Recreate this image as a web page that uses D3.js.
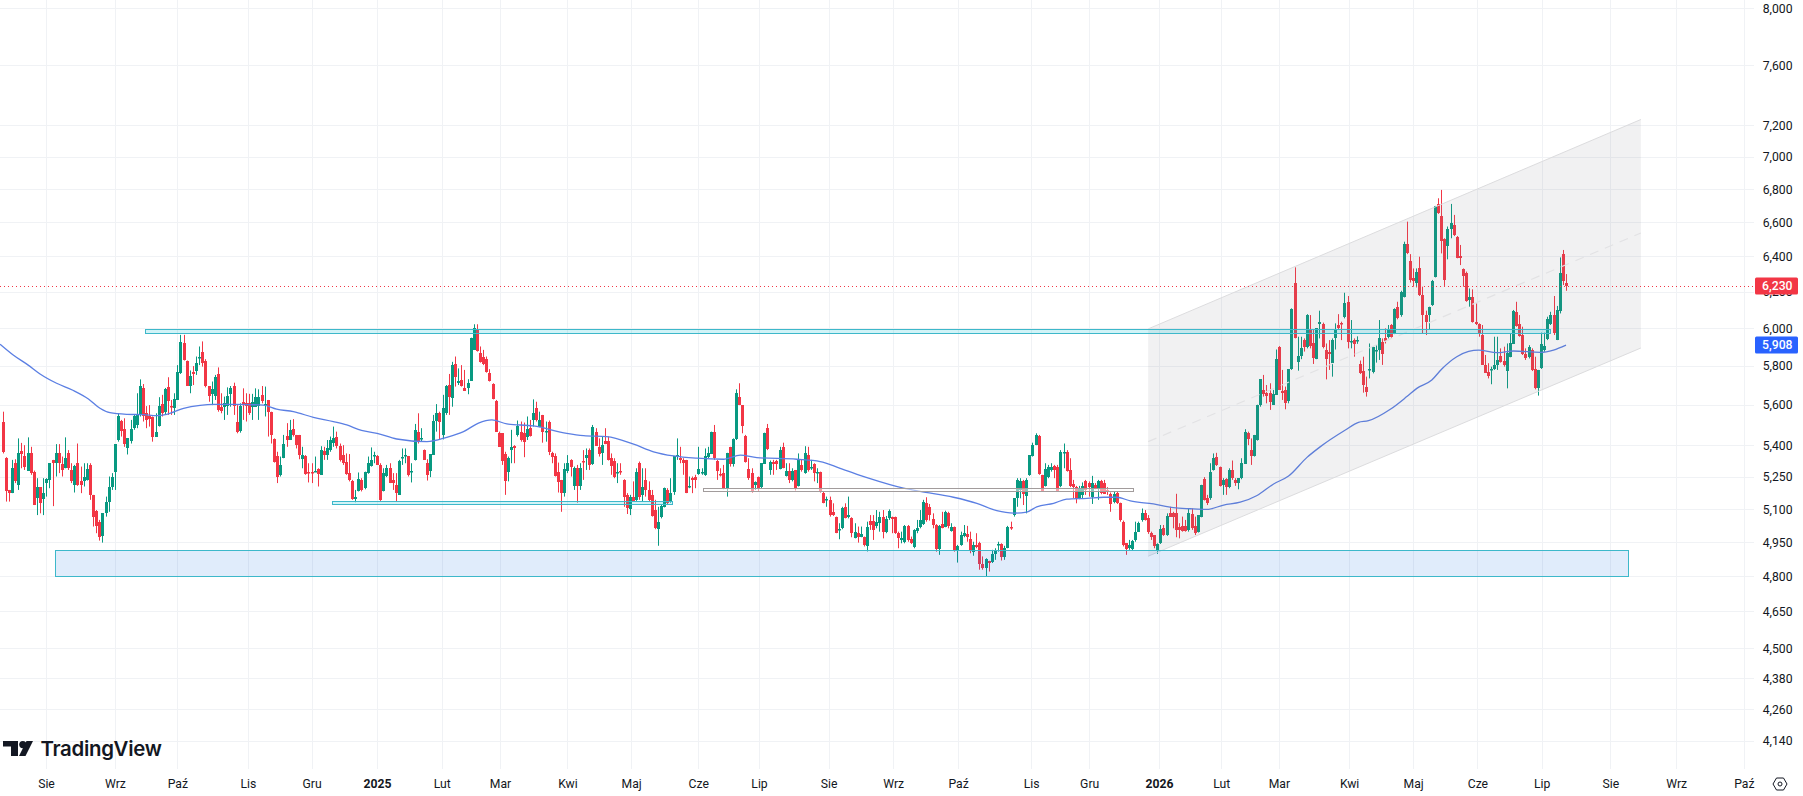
<!DOCTYPE html>
<html>
<head>
<meta charset="utf-8">
<title>Wykres świecowy</title>
<script src="https://cdn.jsdelivr.net/npm/d3@7/dist/d3.min.js"></script>
<style>
html,body{margin:0;padding:0;background:#fff;overflow:hidden}
svg{display:block}
text{font-family:Roboto,"Noto Sans",sans-serif;fill:#131722}
</style>
</head>
<body>
<svg id="chart" width="1803" height="796"></svg>
<script>
// Daily candles as [open, high, low, close]
const bars2024 = [
[5516,5565,5360,5368],[5337,5342,5133,5180],[5187,5187,5133,5175],[5172,5329,5172,5289],[5313,5332,5219,5227],
[5206,5433,5187,5360],[5371,5411,5289,5357],[5348,5400,5281,5297],[5278,5438,5278,5363],[5363,5392,5258,5266],
[5273,5278,5117,5120],[5148,5242,5071,5200],[5200,5200,5079,5128],[5145,5242,5071,5172],[5216,5242,5156,5237],
[5234,5313,5195,5313],[5329,5329,5112,5313],[5313,5405,5250,5360],[5360,5405,5266,5313],[5310,5345,5250,5281],
[5289,5438,5289,5337],[5363,5376,5281,5289],[5281,5313,5219,5231],[5211,5305,5175,5300],[5313,5408,5206,5211],
[5227,5297,5172,5208],[5231,5313,5203,5250],[5231,5313,5231,5284],[5305,5313,5141,5164],[5164,5164,5019,5064],
[5091,5094,4989,5022],[5041,5049,4956,4974],[4974,5079,4947,5079],[5082,5156,5064,5133],[5133,5250,5086,5203],
[5203,5266,5187,5250],[5269,5405,5187,5405],[5425,5557,5417,5541],[5521,5524,5442,5472],[5478,5532,5392,5405],
[5384,5433,5355,5433],[5417,5524,5408,5478],[5483,5549,5475,5541],[5500,5658,5483,5549],[5549,5729,5541,5695],
[5683,5705,5516,5541],[5560,5593,5483,5524],[5541,5598,5491,5524],[5537,5541,5417,5438],[5442,5557,5442,5466],
[5491,5638,5491,5593],[5603,5650,5541,5557],[5565,5685,5549,5682],[5688,5740,5549,5615],[5593,5624,5549,5590],
[5582,5658,5549,5627],[5627,5803,5624,5768],[5764,5963,5757,5925],[5922,5963,5827,5830],[5827,5827,5697,5700],
[5695,5775,5658,5747],[5768,5798,5700,5757],[5770,5848,5752,5812],[5841,5901,5803,5845],[5874,5928,5795,5816],
[5827,5834,5688,5700],[5695,5695,5615,5645],[5651,5718,5598,5678],[5641,5752,5624,5740],[5757,5791,5565,5574],
[5590,5658,5557,5570],[5590,5641,5524,5610],[5593,5688,5549,5645],[5650,5695,5590,5683],[5695,5712,5549,5593],
[5516,5598,5458,5467],[5471,5607,5461,5593],[5615,5683,5524,5598],[5610,5658,5516,5593],[5607,5655,5549,5557],
[5590,5655,5524,5615],[5590,5683,5590,5641],[5597,5678,5524,5641],[5650,5695,5607,5621],[5603,5692,5541,5605],
[5624,5624,5442,5565],[5564,5565,5408,5450],[5431,5433,5316,5321],[5348,5368,5219,5250],[5258,5345,5250,5305],
[5340,5450,5337,5408],[5445,5508,5392,5425],[5425,5524,5425,5475],[5478,5528,5442,5450],[5450,5450,5384,5400],
[5450,5450,5332,5352],[5332,5392,5289,5352],[5348,5352,5258,5263],[5273,5313,5222,5266],[5273,5313,5219,5266],
[5275,5345,5273,5278],[5284,5289,5203,5262],[5258,5395,5258,5376],[5371,5392,5329,5352],[5352,5425,5329,5384],
[5376,5442,5368,5425],[5408,5491,5392,5433],[5438,5466,5384,5392],[5395,5408,5321,5326],[5352,5400,5305,5313],
[5321,5360,5258,5263],[5266,5357,5227,5231],[5231,5234,5141,5148],[5144,5187,5130,5153],[5180,5269,5180,5237],
[5234,5242,5180,5187],[5194,5273,5190,5269],[5266,5345,5263,5313],[5300,5389,5297,5329],[5348,5368,5313,5352],
[5348,5352,5305,5305]
];
const bars2025 = [
[5305,5313,5136,5141],[5180,5289,5180,5266],[5250,5305,5247,5289],[5292,5313,5219,5222],[5234,5266,5187,5222],
[5211,5266,5133,5172],[5164,5329,5164,5324],[5339,5384,5305,5342],[5350,5384,5313,5353],[5348,5348,5250,5258],
[5274,5313,5222,5276],[5329,5504,5326,5475],[5466,5557,5408,5422],[5432,5483,5417,5435],[5379,5379,5329,5332],
[5313,5332,5231,5258],[5276,5357,5247,5357],[5357,5549,5357,5521],[5516,5603,5466,5557],[5557,5565,5425,5511],
[5450,5650,5428,5582],[5557,5700,5549,5695],[5700,5757,5549,5638],[5632,5820,5590,5803],[5809,5848,5692,5744],
[5709,5786,5700,5720],[5726,5803,5692,5695],[5683,5778,5670,5670],[5683,5730,5653,5709],[5723,5948,5723,5948],
[5883,6020,5883,5998],[5993,6020,5874,5874],[5865,5901,5816,5816],[5848,5883,5803,5812],[5834,5848,5764,5764],
[5761,5782,5718,5718],[5705,5709,5627,5627],[5619,5624,5466,5466],[5458,5466,5392,5392],[5458,5458,5305,5324],
[5355,5368,5164,5227],[5269,5345,5227,5337],[5373,5475,5313,5389],[5395,5400,5313,5384],[5450,5521,5442,5495],
[5466,5516,5417,5425],[5458,5511,5342,5412],[5438,5541,5425,5478],[5483,5524,5442,5445],[5524,5627,5491,5557],
[5582,5615,5516,5521],[5488,5565,5488,5524],[5549,5549,5412,5466],[5465,5516,5417,5468],[5516,5521,5352,5368],
[5363,5368,5313,5345],[5350,5360,5250,5253],[5269,5316,5175,5222],[5234,5234,5086,5175],[5169,5313,5156,5284],
[5273,5352,5266,5313],[5329,5332,5250,5297],[5203,5297,5187,5289],[5289,5305,5128,5203],[5203,5313,5187,5289],
[5324,5376,5234,5321],[5337,5384,5281,5352],[5376,5384,5281,5305],[5310,5499,5305,5488],[5466,5483,5400,5400],
[5392,5433,5345,5357],[5360,5442,5305,5400],[5422,5483,5405,5405],[5422,5442,5326,5329],[5340,5360,5258,5302],
[5324,5337,5242,5250],[5268,5313,5219,5270],[5274,5313,5258,5272],[5234,5237,5109,5156],[5164,5172,5076,5102],
[5102,5164,5071,5156],[5156,5227,5133,5136],[5141,5289,5136,5273],[5316,5321,5141,5156],[5164,5289,5133,5203],
[5234,5289,5156,5187],[5187,5227,5133,5141],[5164,5187,5064,5067],[5094,5141,5007,5011],[5011,5109,4933,5041],
[5061,5118,5056,5112],[5109,5198,5106,5198],[5187,5195,5117,5125],[5133,5242,5128,5172],[5180,5348,5164,5348],
[5350,5433,5329,5353],[5337,5392,5313,5326],[5329,5337,5258,5313],[5329,5329,5172,5175],[5201,5250,5195,5205],
[5242,5250,5172,5234],[5250,5258,5195,5237],[5262,5392,5258,5286],[5270,5289,5258,5273],[5258,5384,5253,5348],
[5342,5392,5337,5363],[5360,5466,5357,5466],[5466,5499,5329,5340],[5326,5329,5234,5278],[5264,5289,5250,5261],
[5266,5305,5190,5195],[5192,5363,5156,5360],[5389,5392,5297,5305],[5305,5433,5297,5428],[5433,5678,5425,5661],
[5641,5709,5598,5603],[5598,5598,5458,5491],[5445,5450,5316,5318],[5284,5337,5234,5242],[5266,5289,5175,5175],
[5206,5227,5187,5222],[5247,5250,5180,5190],[5200,5313,5195,5313],[5313,5461,5310,5461],[5483,5504,5376,5380],
[5281,5326,5258,5321],[5321,5329,5258,5313],[5324,5329,5281,5310],[5289,5392,5284,5379],[5392,5412,5289,5289],
[5250,5313,5250,5276],[5278,5313,5219,5234],[5234,5289,5227,5278],[5281,5281,5184,5195],[5206,5360,5203,5332],
[5305,5329,5273,5281],[5266,5395,5263,5363],[5352,5392,5273,5281],[5290,5329,5281,5293],[5310,5313,5227,5266],
[5263,5289,5219,5269],[5269,5273,5175,5175],[5175,5180,5125,5130],[5140,5156,5109,5143],[5141,5156,5064,5071],
[5086,5125,5067,5071],[5064,5064,4989,4992],[5003,5034,4962,5006],[5011,5109,5007,5102],[5106,5125,5056,5056],
[5061,5156,5056,5071],[5056,5061,4971,4989],[4971,5034,4966,4996],[4989,5019,4947,4971],[4974,5019,4971,4986],
[4971,4974,4930,4935],[4935,5041,4908,5019],[5046,5071,5004,5026],[5046,5071,4959,5004],[5022,5094,5011,5041],
[5037,5086,4996,5064],[5064,5094,4966,4996],[4993,5067,4989,5052],[5061,5097,5049,5091],[5061,5064,4989,5053],
[5061,5064,4986,4989],[4989,4996,4922,4966],[4959,4996,4944,4966],[4951,5026,4944,5022],[5022,5026,4951,4959],
[4962,4974,4941,4944],[4930,5007,4922,5004],[4996,5049,4989,5011],[5019,5094,5011,5049],[5034,5141,5026,5133],
[5125,5153,5041,5049],[5109,5122,5046,5071],[5052,5079,5011,5026],[5026,5030,4907,4918],[4918,5026,4893,5022],
[5031,5086,5011,5011],[5019,5091,5016,5086],[5079,5086,5011,5022],[5001,5034,4996,5019],[5016,5019,4907,4912],
[4912,4937,4859,4934],[4937,4996,4933,4981],[4974,5026,4971,4989],[4986,5022,4951,4971],[4962,4996,4900,4907],
[4907,4951,4889,4937],[4937,4989,4922,4930],[4947,4951,4828,4854],[4854,4886,4828,4835],[4835,4878,4799,4874],
[4867,4867,4820,4857],[4860,4915,4857,4897],[4897,4922,4871,4912],[4935,4951,4907,4939],[4941,4944,4868,4883],
[4883,4933,4871,4922],[4927,5022,4922,5019],[5019,5041,5004,5014],[5068,5148,5064,5148],[5148,5242,5109,5234],
[5187,5242,5148,5227],[5227,5234,5117,5164],[5159,5242,5079,5234],[5258,5352,5253,5352],[5348,5412,5345,5403],
[5400,5458,5400,5450],[5445,5450,5258,5263],[5258,5258,5180,5184],[5206,5313,5203,5284],[5247,5305,5242,5294],
[5284,5313,5273,5297],[5300,5305,5242,5281],[5297,5305,5180,5184],[5206,5376,5200,5368],[5363,5408,5289,5368],
[5368,5376,5273,5278],[5281,5337,5200,5206],[5216,5234,5148,5200],[5203,5206,5125,5145],[5148,5206,5144,5195],
[5164,5222,5148,5206],[5227,5234,5164,5187],[5219,5227,5156,5200],[5156,5253,5122,5219],[5211,5219,5190,5195],
[5195,5234,5141,5231],[5227,5234,5167,5172],[5219,5234,5169,5169],[5188,5200,5164,5185],[5169,5175,5086,5125],
[5128,5180,5125,5167],[5172,5180,5122,5125],[5125,5128,5041,5049],[5041,5046,4930,4937],[4944,4944,4893,4918],
[4922,4959,4915,4937],[4919,4959,4912,4956],[4959,5041,4951,4996],[4996,5041,4996,5037],[5046,5101,5041,5079],
[5082,5094,5046,5052],[5056,5071,4986,4993],[4992,4996,4959,4974],[4981,4981,4922,4933],[4912,4944,4897,4941]
];
const bars2026 = [
[4944,5026,4941,5007],[5011,5026,4977,4981],[4981,5079,4977,5067],[5082,5109,5064,5064],[5079,5086,5011,5061],
[5082,5169,4971,5007],[5019,5034,4966,5004],[5022,5064,4996,5001],[5022,5049,4996,5001],[5001,5101,4996,5079],
[5076,5101,5004,5011],[5022,5064,4981,4992],[4996,5071,4992,5071],[5064,5211,5061,5211],[5237,5247,5138,5141],
[5148,5164,5117,5125],[5148,5313,5141,5269],[5281,5360,5278,5337],[5342,5363,5300,5305],[5297,5297,5203,5206],
[5211,5242,5164,5234],[5237,5242,5164,5200],[5200,5289,5195,5281],[5281,5326,5234,5242],[5234,5242,5206,5219],
[5219,5242,5190,5242],[5242,5337,5237,5313],[5313,5478,5310,5466],[5458,5466,5400,5428],[5376,5433,5305,5348],
[5348,5450,5345,5450],[5428,5600,5422,5600],[5599,5729,5590,5729],[5675,5752,5641,5655],[5658,5700,5607,5641],
[5661,5709,5574,5615],[5599,5675,5599,5655],[5650,5885,5650,5834],[5900,5903,5678,5678],[5672,5778,5624,5661],
[5675,5692,5577,5607],[5615,5781,5607,5781],[5781,6107,5778,6102],[6246,6336,5944,5944],[5821,5953,5774,5851],
[5847,5953,5834,5891],[5935,5944,5874,5900],[5900,6075,5891,6070],[5993,6070,5891,5900],[5917,5989,5809,5838],
[5834,5998,5834,5998],[6025,6094,5944,6034],[6021,6029,5891,5900],[5885,5917,5729,5838],[5873,5935,5778,5861],
[5816,5944,5743,5938],[5944,6025,5885,5993],[6016,6075,5993,5998],[6029,6034,5935,6025],[6057,6193,6052,6134],
[6141,6175,5891,5926],[5924,6043,5891,5928],[5938,5944,5847,5917],[5933,5955,5915,5937],[5809,5827,5757,5760],
[5772,5847,5661,5700],[5688,5743,5641,5661],[5780,5917,5734,5784],[5769,5900,5760,5900],[5880,5908,5816,5884],
[5882,6043,5830,5944],[5926,5944,5804,5865],[5944,5998,5917,5926],[5949,6016,5944,5993],[6016,6021,5948,5953],
[5971,6107,5967,6102],[6112,6143,6047,6052],[6070,6204,6061,6199],[6171,6484,6167,6470],[6470,6602,6412,6416],
[6374,6412,6250,6265],[6274,6330,6227,6255],[6250,6330,6223,6312],[6330,6397,6175,6180],[6180,6227,5971,6070],
[6070,6094,5962,6034],[6070,6116,5993,6112],[6125,6265,6120,6261],[6283,6696,6279,6696],[6708,6742,6648,6656],
[6636,6793,6416,6490],[6498,6504,6231,6265],[6455,6573,6382,6557],[6557,6708,6504,6592],[6583,6642,6517,6523],
[6513,6517,6388,6393],[6401,6465,6349,6388],[6325,6330,6227,6283],[6306,6312,6143,6149],[6156,6217,6116,6171],
[6171,6212,6029,6034],[6034,6134,6016,6021],[6021,6025,5953,5967],[5962,6016,5804,5804],[5804,5856,5764,5764],
[5769,5813,5734,5746],[5780,5795,5704,5784],[5781,5953,5778,5804],[5804,5953,5778,5830],[5851,5891,5816,5821],
[5827,5900,5795,5804],[5774,5917,5683,5868],[5847,5971,5844,5921],[5917,6098,5914,6094],[6088,6143,6007,6011],
[6021,6070,5953,5957],[5962,6007,5856,5861],[5861,5891,5830,5838],[5847,5908,5838,5900],[5882,5891,5772,5778],
[5781,5847,5678,5683],[5683,5778,5646,5778],[5787,5975,5783,5914],[5882,5975,5873,5903],[5938,6061,5935,6047],
[6021,6088,6016,6070],[6070,6175,5962,5971],[5938,6120,5935,6098],[6088,6393,6079,6302],[6412,6436,6236,6261],
[6246,6298,6204,6230]
];

// Moving average read along the session axis
const maBars = [-0.8,3.4,8.2,12,17.3,22.7,27.5,31.2,34.4,39.8,45.1,49.4,52.6,58,63.3,67.5,74,83.6,87.8,93.2,99.6,106,110.3,115,120,126.3,136,142.3,147.7,152.5,156.8,161.6,170.1,180.8,186.2,193.6,202.2,208.6,215,222.5,231,236.4,241.7,254.5,262,268.4,277.5,288.7,294,304.7,312.2,318.6,324,328.2,331.4,336.8,341,347.5,352.8,357,361.4,368.8,375.2,380.6,385.9,391.3,396.6,402,407.3,412.1,418,422.3,430.3,434.5,437.7,444.7,450,453.2,458,461.2,466,469.8,473,478.9,484.2,492.8,497,501];
const maValues = [5913,5856,5803,5757,5709,5672,5629,5582,5560,5552,5550,5545,5552,5582,5597,5602,5602,5598,5578,5565,5537,5516,5499,5472,5458,5430,5417,5438,5466,5508,5524,5504,5494,5458,5447,5442,5405,5368,5348,5337,5332,5352,5340,5332,5321,5289,5242,5195,5180,5153,5125,5091,5080,5085,5109,5125,5144,5148,5153,5153,5136,5122,5105,5100,5097,5117,5130,5161,5215,5252,5341,5393,5474,5512,5520,5577,5641,5683,5726,5783,5847,5875,5882,5868,5877,5870,5882,5908];

const priceTicks = [8000,7600,7200,7000,6800,6600,6400,6200,6000,5800,5600,5400,5250,5100,4950,4800,4650,4500,4380,4260,4140];
const monthLabels = ["Sie","Wrz","Paź","Lis","Gru","2025","Lut","Mar","Kwi","Maj","Cze","Lip","Sie","Wrz","Paź","Lis","Gru","2026","Lut","Mar","Kwi","Maj","Cze","Lip","Sie","Wrz","Paź"];
const monthBars = [13.9,36,56,78.6,99,120,140.7,159.4,181,201.4,222.9,242.4,264.7,285.4,306.2,329.6,348.2,370.6,390.5,409,431.5,452,472.6,493.2,515.2,536.3,558];
const boldLabels = ["2025","2026"];

const lastClose = 6230;
const lastAverage = 5908;

// Drawn zones: start bar, end bar, upper price, lower price
const supplyBand = [45.6,496,5993,5971];
const supportBand = [105.7,214.8,5135,5120];
const pivotBand = [224.6,362.4,5195,5180];
const demandBox = [16.9,521,4913,4800];

// Rising channel: start bar, end bar, prices at each end
const channelBars = [367.1,525];
const channelUpper = [5995,7237];
const channelMiddle = [5417,6535];
const channelLower = [4887,5893];

const candles = bars2024.concat(bars2025, bars2026);

const width = 1803, height = 796;
const paneRight = 1754, paneBottom = 769;
const green = "#089981", red = "#f23645", teal = "#3db8ca", blue = "#2962ff";

const x = d3.scaleLinear().domain([0, candles.length - 1]).range([2.6, 1566]);
const y = d3.scaleLog().domain([8000, 4140]).range([8, 740.7]);

// Candle centres sit on pixel centres so wicks stay one pixel wide
const cx = i => Math.round(x(i)) + 0.5;

const svg = d3.select("#chart");

// Clip everything plotted to the price pane
svg.append("defs").append("clipPath").attr("id", "pane")
  .append("rect").attr("x", 0).attr("y", 0).attr("width", paneRight).attr("height", paneBottom);

// Grid
const grid = svg.append("g").attr("stroke", "#f0f2f5").attr("stroke-width", 1).attr("shape-rendering", "crispEdges");
grid.selectAll("line.h").data(priceTicks).join("line").attr("class", "h")
  .attr("x1", 0).attr("x2", paneRight)
  .attr("y1", d => Math.round(y(d)) + 0.5).attr("y2", d => Math.round(y(d)) + 0.5);
grid.selectAll("line.v").data(monthBars).join("line").attr("class", "v")
  .attr("y1", 0).attr("y2", paneBottom)
  .attr("x1", d => Math.round(x(d)) + 0.5).attr("x2", d => Math.round(x(d)) + 0.5);

const plot = svg.append("g").attr("clip-path", "url(#pane)");

// Candles
const candle = plot.append("g").selectAll("g").data(candles).join("g")
  .attr("fill", d => d[3] >= d[0] ? green : red)
  .attr("stroke", d => d[3] >= d[0] ? green : red);
candle.append("line")
  .attr("x1", (d, i) => cx(i)).attr("x2", (d, i) => cx(i))
  .attr("y1", d => y(d[1])).attr("y2", d => y(d[2]))
  .attr("stroke-width", 1);
candle.append("rect")
  .attr("stroke", "none")
  .attr("x", (d, i) => cx(i) - 1.5).attr("width", 3)
  .attr("y", d => Math.round(y(Math.max(d[0], d[3]))))
  .attr("height", d => Math.max(1.5, Math.round(Math.abs(y(d[0]) - y(d[3])))));

// Moving average
const maLine = d3.line().x(d => x(d[0])).y(d => y(d[1])).curve(d3.curveMonotoneX);
plot.append("path")
  .attr("d", maLine(d3.zip(maBars, maValues)))
  .attr("fill", "none").attr("stroke", "#5b7fe3").attr("stroke-width", 1.3);

// Rising channel
const channel = plot.append("g");
const straight = d3.line().x(d => x(d[0])).y(d => y(d[1]));
const chBand = [[channelBars[0], channelUpper[0]], [channelBars[1], channelUpper[1]],
                [channelBars[1], channelLower[1]], [channelBars[0], channelLower[0]]];
channel.append("path").attr("d", straight(chBand) + "Z").attr("fill", "rgba(120,123,134,0.105)");
channel.selectAll("path.edge").data([channelUpper, channelLower]).join("path").attr("class", "edge")
  .attr("d", p => straight(d3.zip(channelBars, p)))
  .attr("fill", "none").attr("stroke", "#dcdcde").attr("stroke-width", 1);
channel.append("path").attr("d", straight(d3.zip(channelBars, channelMiddle)))
  .attr("fill", "none").attr("stroke", "#e2e2e4").attr("stroke-width", 1.2).attr("stroke-dasharray", "9 7");

// Zones
function drawZone(zone, stroke, fill, sw) {
  plot.append("rect")
    .attr("x", Math.round(x(zone[0])) + 0.5).attr("width", Math.round(x(zone[1]) - x(zone[0])))
    .attr("y", Math.round(y(zone[2])) + 0.5).attr("height", Math.round(y(zone[3]) - y(zone[2])))
    .attr("fill", fill).attr("stroke", stroke).attr("stroke-width", sw);
}
drawZone(demandBox, teal, "rgba(33,120,230,0.14)", 1);
drawZone(supplyBand, teal, "rgba(0,188,212,0.18)", 1);
drawZone(supportBand, teal, "rgba(0,188,212,0.18)", 1);
drawZone(pivotBand, "#a29c9c", "rgba(255,255,255,0.5)", 1);

// Last price line
plot.append("line")
  .attr("x1", 0).attr("x2", paneRight)
  .attr("y1", Math.round(y(lastClose)) + 0.5).attr("y2", Math.round(y(lastClose)) + 0.5)
  .attr("stroke", red).attr("stroke-width", 1).attr("stroke-dasharray", "1 3");

// Price axis
const yAxis = d3.axisRight(y).tickValues(priceTicks).tickFormat(d3.format(",")).tickSize(0).tickPadding(0);
const yG = svg.append("g").attr("transform", "translate(1792.5,0)").call(yAxis);
yG.select(".domain").remove();
yG.selectAll("text").attr("text-anchor", "end").attr("font-size", 12.2).attr("dy", "0.35em").attr("x", 0);

// Value tags on the price axis
function tag(value, fill) {
  const cy = Math.round(y(value));
  const g = svg.append("g");
  g.append("rect").attr("x", 1755).attr("y", cy - 8.5).attr("width", 43).attr("height", 17)
    .attr("rx", 1.5).attr("fill", fill);
  g.append("text").attr("x", 1792.5).attr("y", cy).attr("dy", "0.35em")
    .attr("text-anchor", "end").attr("font-size", 12.2).attr("font-weight", 500)
    .style("fill", "#fff").text(d3.format(",")(value));
}
tag(lastClose, red);
tag(lastAverage, blue);

// Time axis
const xAxis = d3.axisBottom(x).tickValues(monthBars)
  .tickFormat((d, i) => monthLabels[i]).tickSize(0).tickPadding(0);
const xG = svg.append("g").attr("transform", "translate(0,779)").call(xAxis);
xG.select(".domain").remove();
xG.selectAll("text").attr("font-size", 12.2).attr("dy", "0.75em").attr("y", 0)
  .attr("font-weight", d => boldLabels.includes(monthLabels[monthBars.indexOf(d)]) ? 700 : 400);

// Logo
const logo = svg.append("g").attr("fill", "#131722");
logo.append("path").attr("d", "M3 741H18V756H11V746.5H3Z");
logo.append("circle").attr("cx", 22.8).attr("cy", 744.6).attr("r", 3.6);
logo.append("path").attr("d", "M26.5 741H33L25.5 756H19Z");
svg.append("text").attr("x", 40.5).attr("y", 756)
  .attr("font-size", 20.4).attr("font-weight", 600).style("font-family", "Inter, sans-serif")
  .attr("letter-spacing", "-0.3").text("TradingView");

// Settings button
const gear = svg.append("g").attr("transform", "translate(1780,784)")
  .attr("fill", "none").attr("stroke", "#131722").attr("stroke-width", 1);
gear.append("path").attr("d", "M-7 0L-3.5-6H3.5L7 0L3.5 6H-3.5Z");
gear.append("circle").attr("r", 2);
</script>
</body>
</html>
